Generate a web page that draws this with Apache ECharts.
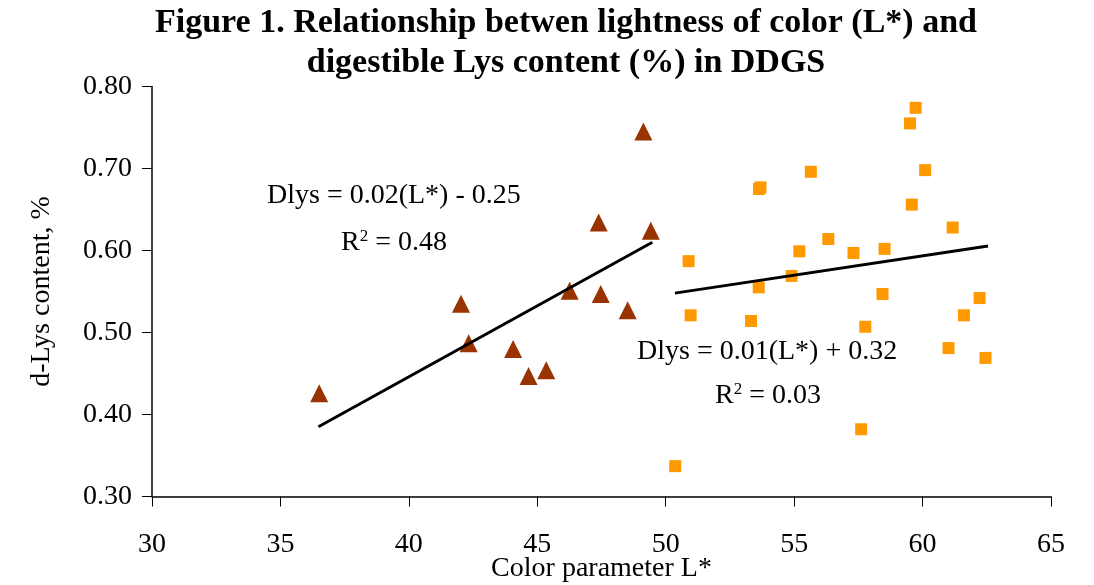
<!DOCTYPE html>
<html>
<head>
<meta charset="utf-8">
<script src="https://cdn.jsdelivr.net/npm/echarts@6/dist/echarts.min.js"></script>
<style>html,body{margin:0;padding:0;background:#fff}#c{width:1094px;height:585px}</style>
</head>
<body>
<div id="c"></div>
<script>
// Group 1 (triangles): [L*, d-Lys %]
const lowL = [
  [36.51,0.426],[42.03,0.535],[42.33,0.487],[44.06,0.480],[44.66,0.447],[45.35,0.454],
  [46.26,0.551],[47.39,0.634],[47.47,0.547],[48.52,0.527],[49.13,0.745],[49.42,0.624]
];
// Group 2 (squares)
const highL = [
  [50.89,0.587],[50.97,0.521],[50.37,0.337],[53.63,0.675],[53.69,0.677],[53.62,0.555],
  [53.32,0.514],[54.90,0.569],[55.20,0.599],[55.65,0.696],[56.33,0.614],[57.31,0.597],
  [57.61,0.382],[57.77,0.507],[58.44,0.547],[58.52,0.602],[59.51,0.755],[59.73,0.774],
  [59.58,0.656],[60.10,0.698],[61.17,0.628],[61.01,0.481],[61.61,0.521],[62.22,0.542],
  [62.45,0.469]
];
// Trend lines (end points)
const trendLow = [[36.48,0.385],[49.48,0.610]];
const trendHigh = [[50.36,0.548],[62.55,0.6055]];
const xTicks = [30,35,40,45,50,55,60,65];
const yTicks = [0.30,0.40,0.50,0.60,0.70,0.80];
const titleLines = ['Figure 1. Relationship betwen lightness of color (L*) and', 'digestible Lys content (%) in DDGS'];
const eqLow = ['Dlys = 0.02(L*) - 0.25', '0.48'];
const eqHigh = ['Dlys = 0.01(L*) + 0.32', '0.03'];

const FONT = '"Liberation Serif","DejaVu Serif",serif';
const chart = echarts.init(document.getElementById('c'));
const supRich = {s: {fontSize: 17, fontFamily: FONT, verticalAlign: 'top', padding: [0,0,12,0], fill: '#000'}};
chart.setOption({
  animation: false,
  backgroundColor: '#fff',
  grid: {left: 152, right: 43, top: 86.5, bottom: 88.5, containLabel: false, outerBoundsMode: 'none'},
  xAxis: {
    type: 'value', min: xTicks[0], max: xTicks[xTicks.length-1], interval: 5,
    name: 'Color parameter L*', nameLocation: 'middle', nameGap: 58, nameMoveOverlap: false,
    nameTextStyle: {fontFamily: FONT, fontSize: 28, color: '#000'},
    axisLine: {lineStyle: {color: '#000', width: 1.5}},
    axisTick: {inside: false, length: 10, lineStyle: {color: '#000'}},
    axisLabel: {fontFamily: FONT, fontSize: 28, color: '#000', margin: 34},
    splitLine: {show: false}
  },
  yAxis: {
    type: 'value', min: yTicks[0], max: yTicks[yTicks.length-1], interval: 0.1,
    name: 'd-Lys content, %', nameLocation: 'middle', nameGap: 96, nameMoveOverlap: false,
    nameTextStyle: {fontFamily: FONT, fontSize: 28, color: '#000'},
    axisLine: {show: true, lineStyle: {color: '#000', width: 1.5}},
    axisTick: {show: true, length: 10, lineStyle: {color: '#000'}},
    axisLabel: {fontFamily: FONT, fontSize: 28, color: '#000', margin: 20,
      formatter: v => v.toFixed(2)},
    splitLine: {show: false}
  },
  series: [
    {type: 'scatter', data: lowL, symbol: 'triangle', symbolSize: 18,
     itemStyle: {color: '#993300', opacity: 1}, z: 3},
    {type: 'scatter', data: highL, symbol: 'rect', symbolSize: 12,
     itemStyle: {color: '#FF9900', opacity: 1}, z: 3},
    {type: 'line', data: trendLow, symbol: 'none', lineStyle: {color: '#000', width: 3}, z: 4},
    {type: 'line', data: trendHigh, symbol: 'none', lineStyle: {color: '#000', width: 3}, z: 4}
  ],
  graphic: [
    {type: 'text', style: {x: 566, y: 23, text: titleLines[0], font: 'bold 34px ' + FONT, fill: '#000', align: 'center', verticalAlign: 'middle'}},
    {type: 'text', style: {x: 566, y: 63, text: titleLines[1], font: 'bold 34px ' + FONT, fill: '#000', align: 'center', verticalAlign: 'middle'}},
    {type: 'text', left: 267, top: 182, style: {text: eqLow[0], font: '28px ' + FONT, fill: '#000'}},
    {type: 'text', left: 341, top: 228, style: {text: 'R{s|2} = ' + eqLow[1], font: '28px ' + FONT, fill: '#000', rich: supRich}},
    {type: 'text', left: 637, top: 338, style: {text: eqHigh[0], font: '28px ' + FONT, fill: '#000'}},
    {type: 'text', left: 715, top: 381, style: {text: 'R{s|2} = ' + eqHigh[1], font: '28px ' + FONT, fill: '#000', rich: supRich}}
  ]
});
</script>
</body>
</html>
